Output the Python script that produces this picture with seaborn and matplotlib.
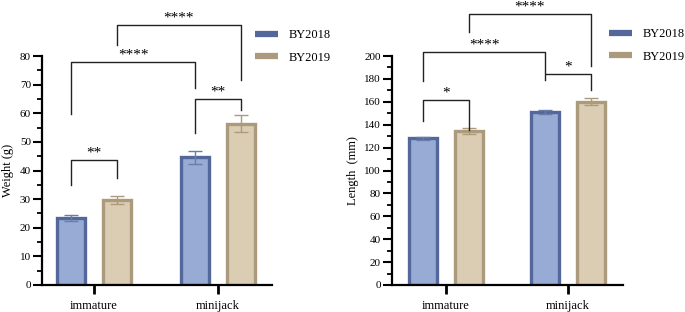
import pandas as pd
import numpy as np
import matplotlib
matplotlib.use('Agg')
import matplotlib.pyplot as plt
import seaborn as sns
from matplotlib.lines import Line2D
from matplotlib.ticker import MultipleLocator

# ---- data ----
groups = ['immature', 'minijack']
years = ['BY2018', 'BY2019']

weight_2018 = [23.5, 44.6]
weight_2019 = [29.7, 56.3]
weight_err_2018 = [1.0, 2.2]
weight_err_2019 = [1.3, 3.0]

length_2018 = [128.0, 151.0]
length_2019 = [134.5, 160.0]
length_err_2018 = [1.5, 2.0]
length_err_2019 = [2.5, 3.0]

# significance brackets: (bar a, bar b, top, leg a bottom, leg b bottom, label)
# bars indexed as (year index, group index)
weight_sig = [
    ((0, 0), (1, 0), 43.6, 35.0, 37.3, '**'),
    ((0, 1), (1, 1), 65.0, 53.0, 61.0, '**'),
    ((0, 0), (0, 1), 78.0, 59.6, 68.7, '****'),
    ((1, 0), (1, 1), 91.0, 83.7, 71.5, '****'),
]
length_sig = [
    ((0, 0), (1, 0), 161.6, 143.0, 135.4, '*'),
    ((0, 1), (1, 1), 184.0, 179.0, 170.0, '*'),
    ((0, 0), (0, 1), 203.5, 178.0, 185.0, '****'),
    ((1, 0), (1, 1), 236.7, 221.0, 191.0, '****'),
]

fill_colors = ['#97abd5', '#dbcdb3']
edge_colors = ['#53679a', '#ab9a7c']
err_colors = ['#6a7caa', '#ab9a7c']

plt.rcParams['font.family'] = ['Liberation Serif', 'DejaVu Serif']
serif = ['Liberation Serif', 'DejaVu Serif']


def make_df(v18, v19):
    return pd.DataFrame({
        'group': groups * 2,
        'year': [years[0]] * 2 + [years[1]] * 2,
        'value': list(v18) + list(v19),
    })


def draw_panel(ax, v18, v19, e18, e19, ylabel, ymax, major, minor, xlim,
               sig, label_x):
    df = make_df(v18, v19)
    sns.barplot(data=df, x='group', y='value', hue='year', order=groups,
                hue_order=years, palette=fill_colors, width=0.74, gap=0.38,
                saturation=1, errorbar=None, linewidth=2.4, legend=False,
                ax=ax)
    centers = {}
    errs = [e18, e19]
    bar_conts = list(ax.containers)
    for yi, cont in enumerate(bar_conts):
        for gi, bar in enumerate(cont.patches):
            bar.set_edgecolor(edge_colors[yi])
            x = bar.get_x() + bar.get_width() / 2
            h = bar.get_height()
            centers[(yi, gi)] = x
            ax.errorbar(x, h, yerr=errs[yi][gi], fmt='none',
                        ecolor=err_colors[yi], elinewidth=1.0,
                        capsize=5, capthick=1.0, zorder=3)

    for a, b, top, ya, yb, lab in sig:
        xa, xb = centers[a], centers[b]
        ax.plot([xa, xa, xb, xb], [ya, top, top, yb], color='#222222',
                lw=1.0, clip_on=False, zorder=4)
        ax.text((xa + xb) / 2, top + ymax * 0.03, lab, ha='center',
                va='center', fontsize=11, family=serif, clip_on=False)

    ax.set_ylim(0, ymax)
    ax.set_xlim(*xlim)
    ax.yaxis.set_major_locator(MultipleLocator(major))
    ax.yaxis.set_minor_locator(MultipleLocator(minor))
    ax.set_xlabel('')
    ax.set_ylabel(ylabel, fontsize=9, family=serif)
    ax.yaxis.set_label_coords(label_x, 0.5)
    sns.despine(ax=ax)
    for s in ['left', 'bottom']:
        ax.spines[s].set_linewidth(1.6)
    ax.tick_params(axis='y', which='major', length=6.5, width=1.5,
                   labelsize=8, pad=1.5)
    ax.tick_params(axis='y', which='minor', length=3.5, width=1.3)
    ax.tick_params(axis='x', which='major', length=6.5, width=2.0,
                   labelsize=9, pad=4)
    for t in ax.get_xticklabels() + ax.get_yticklabels():
        t.set_family(serif)


fig = plt.figure(figsize=(6.85, 3.12), dpi=100)
ax1 = fig.add_axes([42 / 685, 27 / 312, 230 / 685, 229 / 312])
ax2 = fig.add_axes([392 / 685, 27 / 312, 231 / 685, 229 / 312])

draw_panel(ax1, weight_2018, weight_2019, weight_err_2018, weight_err_2019,
           'Weight (g)', 80, 10, 5, (-0.419, 1.435), weight_sig, -0.12)
draw_panel(ax2, length_2018, length_2019, length_err_2018, length_err_2019,
           'Length  (mm)', 200, 20, 10, (-0.443, 1.451), length_sig, -0.143)

handles = [Line2D([0], [0], color=c, lw=4.5, solid_capstyle='butt')
           for c in edge_colors]
for xpos, ytop in [(255 / 685, 29 / 312), (609 / 685, 28 / 312)]:
    fig.legend(handles, years, loc='upper left',
               bbox_to_anchor=(xpos, 1 - ytop), frameon=False,
               handlelength=1.8, handletextpad=0.9, labelspacing=0.85,
               borderpad=0, borderaxespad=0,
               prop={'family': serif, 'size': 9})

fig.savefig('out.png', dpi=100)
